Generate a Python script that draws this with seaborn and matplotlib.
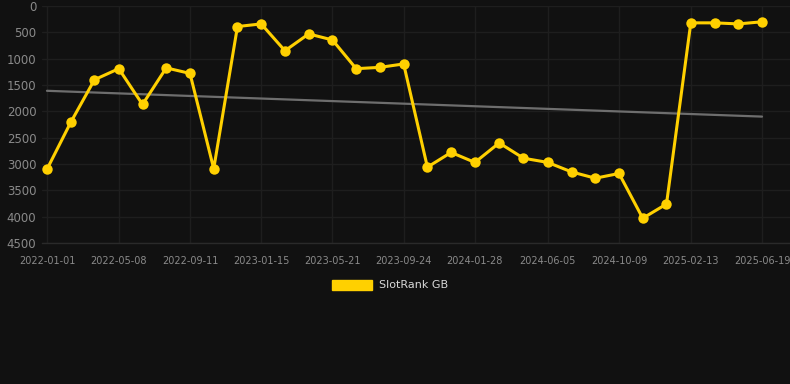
import matplotlib
matplotlib.use("Agg")
import matplotlib.pyplot as plt
from matplotlib.patches import Patch
import seaborn as sns
import pandas as pd

dates = [
    "2022-01-01", "2022-02-12", "2022-03-26", "2022-05-08", "2022-06-19",
    "2022-07-31", "2022-09-11", "2022-10-23", "2022-12-04", "2023-01-15",
    "2023-02-26", "2023-04-09", "2023-05-21", "2023-07-02", "2023-08-13",
    "2023-09-24", "2023-11-05", "2023-12-17", "2024-01-28", "2024-03-11",
    "2024-04-23", "2024-06-05", "2024-07-17", "2024-08-28", "2024-10-09",
    "2024-11-20", "2025-01-01", "2025-02-13", "2025-03-27", "2025-05-08",
    "2025-06-19",
]
ranks = [
    3100, 2210, 1400, 1190, 1870,
    1175, 1280, 3090, 390, 340,
    850, 530, 645, 1190, 1165,
    1100, 3060, 2780, 2970, 2600,
    2890, 2970, 3150, 3270, 3180,
    4030, 3760, 320, 320, 340,
    300,
]
trend_dates = ["2022-01-01", "2025-06-19"]
trend_values = [1610, 2100]
tick_labels = [
    "2022-01-01", "2022-05-08", "2022-09-11", "2023-01-15", "2023-05-21",
    "2023-09-24", "2024-01-28", "2024-06-05", "2024-10-09", "2025-02-13",
    "2025-06-19",
]
y_ticks = [0, 500, 1000, 1500, 2000, 2500, 3000, 3500, 4000, 4500]
series_name = "SlotRank GB"

bg = "#111111"
gold = "#FFD000"
grid_c = "#1e1e1e"
text_c = "#8a8a8a"

sns.set_theme(style="dark")
plt.rcParams["font.family"] = ["DejaVu Sans"]

df = pd.DataFrame({"date": pd.to_datetime(dates), "rank": ranks})
tdf = pd.DataFrame({"date": pd.to_datetime(trend_dates), "rank": trend_values})

fig = plt.figure(figsize=(7.9, 3.84), dpi=100, facecolor=bg)
ax = fig.add_axes([42 / 790, 1 - 243 / 384, 1 - 42 / 790, (243 - 6) / 384])
ax.set_facecolor(bg)

sns.lineplot(data=tdf, x="date", y="rank", ax=ax, color="#6e6e6e", linewidth=1.6, zorder=2)
sns.lineplot(data=df, x="date", y="rank", ax=ax, color=gold, linewidth=2.2,
             marker="o", markersize=7.5, markeredgewidth=0, zorder=3)

start = pd.Timestamp(trend_dates[0])
end = pd.Timestamp(trend_dates[1])
ax.set_xlim(start - pd.Timedelta(days=8.8), end + pd.Timedelta(days=49.5))
ax.set_ylim(4500, 0)

tick_pos = pd.to_datetime(tick_labels)
ax.set_xticks(tick_pos)
ax.set_xticklabels(tick_labels)
ax.set_yticks(y_ticks)
ax.set_yticklabels([str(v) for v in y_ticks])

ax.tick_params(axis="x", colors=text_c, labelsize=7, length=0, pad=9)
ax.tick_params(axis="y", colors=text_c, labelsize=8.5, length=0, pad=4)
ax.grid(True, color=grid_c, linewidth=1.0)
for s in ["top", "right", "left"]:
    ax.spines[s].set_visible(False)
ax.spines["bottom"].set_visible(True)
ax.spines["bottom"].set_color("#2a2a2a")
ax.spines["bottom"].set_linewidth(1.0)
ax.set_xlabel("")
ax.set_ylabel("")

handle = Patch(facecolor=gold, edgecolor=gold, label=series_name)
fig.legend(handles=[handle], loc="center", bbox_to_anchor=(390 / 790, 1 - 285 / 384),
           frameon=False, fontsize=8, handlelength=3.6, handleheight=1.0,
           handletextpad=0.6, labelcolor="#d8d8d8")

fig.savefig("out.png", dpi=100, facecolor=bg)
